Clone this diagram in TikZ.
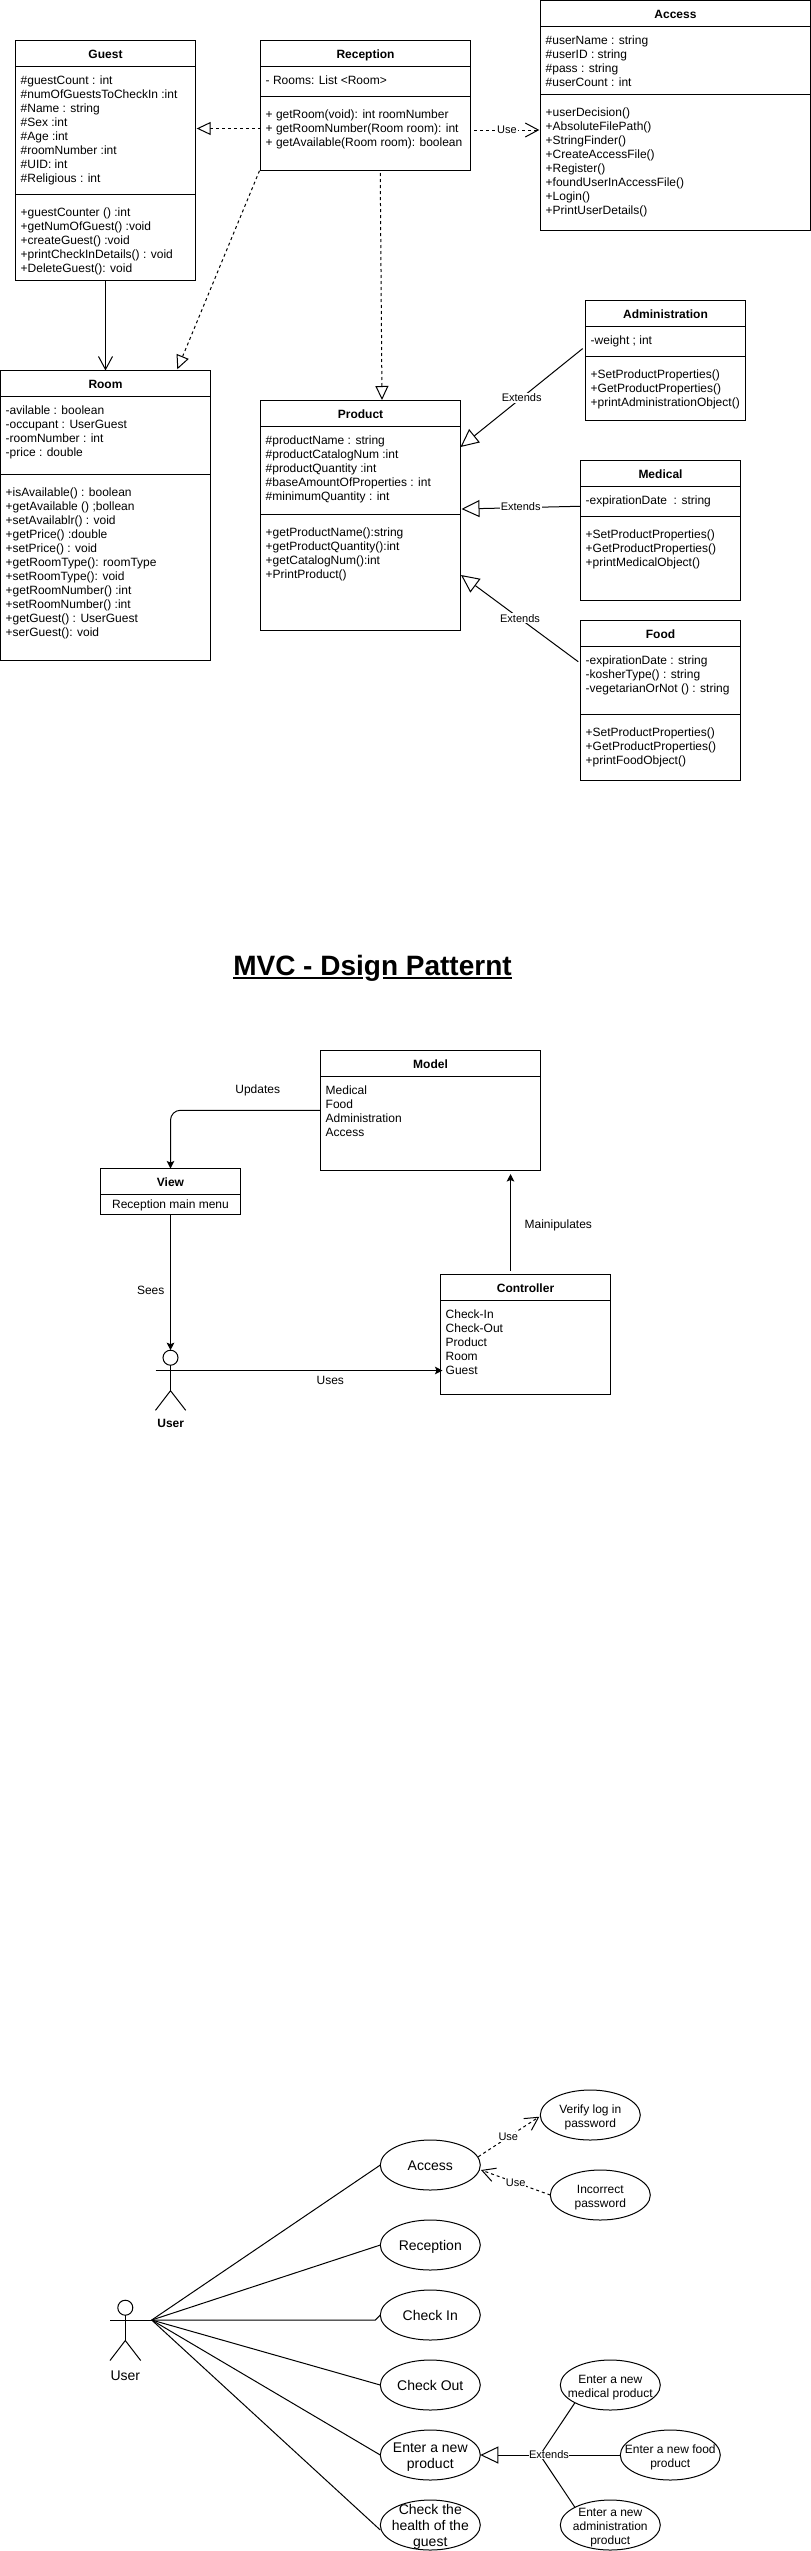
\documentclass[tikz,border=0pt]{standalone}
\usepackage{fontspec}
\setmainfont{Liberation Sans}
\usetikzlibrary{arrows.meta,fit,shapes.geometric}
\tikzset{
  classbox/.style={draw=black,line width=1pt,inner sep=0pt,outer sep=0pt},
  classtitle/.style={anchor=base,inner sep=0pt,font=\fontsize{12}{14}\selectfont\bfseries},
  listtext/.style={anchor=north west,inner sep=0pt,align=left,font=\fontsize{12}{14}\selectfont},
  plainlabel/.style={inner sep=0pt,font=\fontsize{12}{14}\selectfont},
  edgelabel/.style={fill=white,inner sep=1pt,font=\fontsize{11}{13}\selectfont},
  conn/.style={line width=1pt,draw=black},
  dashconn/.style={conn,dash pattern=on 3pt off 3pt},
  hollowsmall/.style={-{Triangle[length=14pt,width=13pt,fill=white]}},
  hollowbig/.style={-{Triangle[length=18pt,width=17pt,fill=white]}},
  openhead/.style={-{Straight Barb[length=13pt,width=14pt]}},
  solidhead/.style={-{Stealth[length=7.5pt,width=7.5pt,inset=1.5pt]}},
  usecase/.style={draw=black,line width=1pt,ellipse,inner sep=0pt,outer sep=0pt,minimum width=100pt,minimum height=50pt},
  uctextl/.style={inner sep=0pt,align=center,yshift=-2pt,font=\fontsize{14}{16}\selectfont},
  uctexts/.style={inner sep=0pt,align=center,yshift=-2.3pt,font=\fontsize{12}{14}\selectfont},
  actorhead/.style={draw=black,line width=1pt,circle,inner sep=0pt,outer sep=0pt,minimum size=15pt},
}
\newcommand{\umlclass}[7]{%
  \node[classbox,fit={(#2,#3)(#4,#5)}] (#1) {};
  \node[classtitle] (#1-title) at ([yshift=-18pt]#1.north) {#7};
  \draw[conn] (#1.west |- 0,#6) -- (#1.east |- 0,#6);
}
\newcommand{\umlattrs}[3]{\node[listtext,xshift=5pt,yshift=-8.2pt] (#1-attrs) at (#1.west |- 0,#2) {\strut #3};}
\newcommand{\umlmeths}[3]{%
  \draw[conn] (#1.west |- 0,#2) -- (#1.east |- 0,#2);
  \node[listtext,xshift=5pt,yshift=-12.2pt] (#1-meths) at (#1.west |- 0,#2) {\strut #3};}
\newcommand{\ucase}[5]{%
  \node[usecase] (#1) at (#2,#3) {};
  \node[#4] (#1-text) at (#1) {#5};}
\begin{document}
\begin{tikzpicture}[x=1pt,y=-1pt]
\useasboundingbox (0,0) rectangle (811,2551);

% ---------- class diagram ----------
\umlclass{guest}{15.5}{40.5}{195.5}{280}{66}{Guest}
\umlattrs{guest}{66}{\#guestCount : int\\\#numOfGuestsToCheckIn :int\\\#Name : string\\\#Sex :int\\\#Age :int\\\#roomNumber :int\\\#UID: int\\\#Religious : int}
\umlmeths{guest}{194}{+guestCounter () :int\\+getNumOfGuest() :void\\+createGuest() :void\\+printCheckInDetails() : void\\+DeleteGuest(): void}

\umlclass{reception}{260.5}{40.5}{470.5}{170}{66}{Reception}
\umlattrs{reception}{66}{- Rooms: List <Room>}
\umlmeths{reception}{96.5}{+ getRoom(void): int roomNumber\\+ getRoomNumber(Room room): int\\+ getAvailable(Room room): boolean}

\umlclass{access}{540.5}{0.5}{810.5}{230}{26}{Access}
\umlattrs{access}{26}{\#userName : string\\\#userID : string\\\#pass : string\\\#userCount : int}
\umlmeths{access}{94.5}{+userDecision()\\+AbsoluteFilePath()\\+StringFinder()\\+CreateAccessFile()\\+Register()\\+foundUserInAccessFile()\\+Login()\\+PrintUserDetails()}

\umlclass{admin}{585.5}{300.5}{745.5}{420}{326}{Administration}
\umlattrs{admin}{326}{-weight ; int}
\umlmeths{admin}{356.5}{+SetProductProperties()\\+GetProductProperties()\\+printAdministrationObject()}

\umlclass{room}{0.5}{370.5}{210.5}{660}{396}{Room}
\umlattrs{room}{396}{-avilable : boolean\\-occupant : UserGuest\\-roomNumber : int\\-price : double}
\umlmeths{room}{474.5}{+isAvailable() : boolean\\+getAvailable () ;bollean\\+setAvailablr() : void\\+getPrice() :double\\+setPrice() : void\\+getRoomType(): roomType\\+setRoomType(): void\\+getRoomNumber() :int\\+setRoomNumber() :int\\+getGuest() : UserGuest\\+serGuest(): void}

\umlclass{product}{260.5}{400.5}{460.5}{630}{426.5}{Product}
\umlattrs{product}{426.5}{\#productName : string\\\#productCatalogNum :int\\\#productQuantity :int\\\#baseAmountOfProperties : int\\\#minimumQuantity : int}
\umlmeths{product}{514.5}{+getProductName():string\\+getProductQuantity():int\\+getCatalogNum():int\\+PrintProduct()}

\umlclass{medical}{580.5}{460.5}{740.5}{600}{486}{Medical}
\umlattrs{medical}{486}{-expirationDate~ : string}
\umlmeths{medical}{516.5}{+SetProductProperties()\\+GetProductProperties()\\+printMedicalObject()}

\umlclass{food}{580.5}{620.5}{740.5}{780}{646.5}{Food}
\umlattrs{food}{646.5}{-expirationDate : string\\-kosherType() : string\\-vegetarianOrNot () : string}
\umlmeths{food}{714.5}{+SetProductProperties()\\+GetProductProperties()\\+printFoodObject()}

\draw[dashconn,hollowsmall] ([yshift=-23.25pt]reception.west) -- ([xshift=1.2pt,yshift=31.75pt]guest.east);
\draw[dashconn,hollowsmall] ([xshift=-1pt,yshift=-.7pt]reception.south west) -- ([xshift=71.8pt,yshift=1.2pt]room.north);
\draw[dashconn,hollowsmall] ([xshift=14.75pt,yshift=-3pt]reception.south) -- ([xshift=21.5pt,yshift=.5pt]product.north);
\draw[dashconn,openhead] ([xshift=3.5pt,yshift=-24.75pt]reception.east) -- ([xshift=-1.2pt,yshift=-14.75pt]access.west);
\node[edgelabel] (uselabel) at (507,130) {Use};
\draw[conn,openhead] (guest.south) -- (room.north);
\draw[conn,hollowbig] ([xshift=-2.8pt,yshift=11.7pt]admin.west) -- ([yshift=68.25pt]product.east);
\node[edgelabel] (extadmin) at (521.7,398) {Extends};
\draw[conn,hollowbig] ([yshift=24pt]medical.west) -- ([xshift=1pt,yshift=6.25pt]product.east);
\node[edgelabel] (extmed) at (520.7,507) {Extends};
\draw[conn,hollowbig] ([xshift=-2.2pt,yshift=38.5pt]food.west) -- ([xshift=.5pt,yshift=-59.75pt]product.east);
\node[edgelabel] (extfood) at (520,618.3) {Extends};

% ---------- MVC ----------
\node[anchor=base,inner sep=0pt,font=\fontsize{28}{32}\selectfont\bfseries] (mvctitle) at (372.5,975) {MVC - Dsign Patternt};
\draw[line width=2pt] (233.3,978) -- (362.7,978);
\draw[line width=2pt] (383,978) -- (511.7,978);

\umlclass{model}{320.5}{1050.5}{540.5}{1170}{1076.5}{Model}
\umlattrs{model}{1076.5}{Medical\\Food\\Administration\\Access}
\umlclass{view}{100.5}{1168.5}{240.5}{1214.5}{1194.5}{View}
\node[plainlabel,anchor=base] (view-text) at (170.5,1208.3) {Reception main menu};
\umlclass{controller}{440.5}{1274.5}{610.5}{1394.5}{1300.5}{Controller}
\umlattrs{controller}{1300.5}{Check-In\\Check-Out\\Product\\Room\\Guest}

\node[actorhead] (mvcuser) at (170.5,1357.7) {};
\coordinate (mvcarm) at (155.5,1370.5);
\coordinate (mvchip) at (170.5,1390.7);
\coordinate (mvcfootl) at (155.5,1410.3);
\coordinate (mvcfootr) at (185.7,1410.3);
\draw[conn] (mvcuser.south) -- (mvchip);
\draw[conn] (mvcfootl) -- (mvchip) -- (mvcfootr);
\node[anchor=base,inner sep=0pt,font=\fontsize{12}{14}\selectfont\bfseries] (mvcuserlabel) at (170.7,1427.7) {User};

\draw[conn,solidhead,rounded corners=10pt] (model.west) -| (view.north);
\draw[conn,solidhead] (view.south) -- (mvcuser.north);
\draw[conn,solidhead] (mvcarm) -- ([xshift=2pt,yshift=-36pt]controller.west);
\draw[conn,solidhead] ([xshift=-15pt,yshift=4pt]controller.north) -- ([xshift=80pt,yshift=-4pt]model.south);
\node[plainlabel] (updates) at (257.7,1090.7) {Updates};
\node[plainlabel] (sees) at (150.7,1290.7) {Sees};
\node[plainlabel] (uses) at (330.3,1380.7) {Uses};
\node[plainlabel] (manip) at (558.3,1225) {Mainipulates};

% ---------- use cases ----------
\ucase{ucaccess}{430.3}{2165}{uctextl}{\strut Access}
\ucase{ucverify}{590.3}{2115}{uctexts}{\strut Verify log in\\\strut password}
\ucase{ucincorrect}{600.3}{2195}{uctexts}{\strut Incorrect\\\strut password}
\ucase{ucreception}{430.3}{2245}{uctextl}{\strut Reception}
\ucase{uccheckin}{430.3}{2315}{uctextl}{\strut Check In}
\ucase{uccheckout}{430.3}{2385}{uctextl}{\strut Check Out}
\ucase{ucproduct}{430.3}{2455}{uctextl}{\strut Enter a new\\\strut product}
\ucase{uchealth}{430.3}{2525}{uctextl}{\strut Check the\\\strut health of the\\\strut guest}
\ucase{ucmedical}{610.3}{2385}{uctexts}{\strut Enter a new\\\strut medical product}
\ucase{ucfood}{670.3}{2455}{uctexts}{\strut Enter a new food\\\strut product}
\ucase{ucadmin}{610.3}{2525}{uctexts}{\strut Enter a new\\\strut administration\\\strut product}

\node[actorhead] (ucuser) at (125.3,2307.7) {};
\coordinate (ucarm) at (110,2320);
\coordinate (hub) at (151.7,2320);
\coordinate (uchip) at (125.3,2340.5);
\coordinate (ucfootl) at (110,2360.5);
\coordinate (ucfootr) at (140.7,2360.5);
\draw[conn] (ucuser.south) -- (uchip);
\draw[conn] (ucfootl) -- (uchip) -- (ucfootr);
\draw[conn] (ucarm) -- (hub);
\node[anchor=base,inner sep=0pt,font=\fontsize{14}{16}\selectfont] (ucuserlabel) at (125.3,2380) {User};

\draw[conn] (hub) -- (ucaccess.west);
\draw[conn] (hub) -- (ucreception.west);
\draw[conn] (hub) -- ([xshift=-5pt,yshift=-5pt]uccheckin.west) -- (uccheckin.west);
\draw[conn] (hub) -- (uccheckout.west);
\draw[conn] (hub) -- (ucproduct.west);
\draw[conn] (hub) -- ([yshift=-5pt]uchealth.west);

\draw[dashconn,openhead] ([xshift=-2pt,yshift=8.3pt]ucaccess.east) -- ([xshift=-1pt,yshift=-1.7pt]ucverify.west);
\node[edgelabel] (useverify) at (508.3,2137) {Use};
\draw[dashconn,openhead] (ucincorrect.west) -- ([xshift=.7pt,yshift=-5pt]ucaccess.east);
\node[edgelabel] (useincorrect) at (515.7,2182.3) {Use};

\coordinate (extj) at (540,2455);
\draw[conn,hollowbig] (ucfood.west) -- (ucproduct.east);
\draw[conn] (ucmedical.south west) -- (extj);
\draw[conn] (ucadmin.north west) -- (extj);
\node[edgelabel,inner sep=0pt] (extuc) at (549,2455) {Extends};
\end{tikzpicture}
\end{document}
